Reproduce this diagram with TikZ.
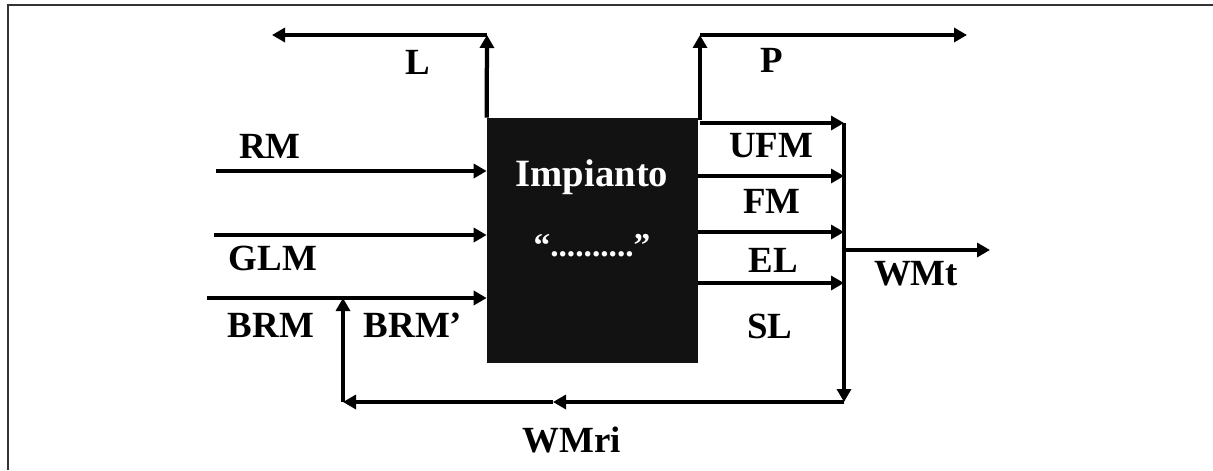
\documentclass[tikz,border=0pt]{standalone}
\usepackage{fontspec}
\setmainfont{Liberation Serif}
\usetikzlibrary{positioning, arrows.meta}

\begin{document}
\begin{tikzpicture}[
        x=0.02cm, y=-0.02cm,
        flow/.style={-{Triangle[length=0.26cm, width=0.28cm]}, line width=0.085cm},
        wire/.style={line width=0.085cm},
        lbl/.style={font=\fontsize{21}{24}\selectfont\bfseries, inner sep=0pt}
      ]
        \useasboundingbox (0,0) rectangle (1213,470);
        \draw[line width=0.03cm, black!80] (8,470) -- (8,5) -- (1213,5);
        % plant block
        \node[fill=black!93, minimum width=4.22cm, minimum height=4.9cm, inner sep=0pt] (plant) at (592.5,240.5) {};
        \node[lbl, text=white, font=\fontsize{22}{24}\selectfont\bfseries] (name) at (592,177) {Impianto};
        \node[lbl, text=white, font=\fontsize{19}{22}\selectfont\bfseries] (dots) at (592,246) {“..........”};
        % free ends
        \coordinate (rmin)  at (216,171);
        \coordinate (glmin) at (214,235);
        \coordinate (brmin) at (207,298);
        \coordinate (ltop)  at (487,35);
        \coordinate (lend)  at (272,35);
        \coordinate (pbase) at (700,120);
        \coordinate (ptop)  at (700,35);
        \coordinate (pend)  at (967,35);
        \coordinate (ufm)   at (700,123);
        \coordinate (fm)    at (plant.east |- 0,176);
        \coordinate (el)    at (plant.east |- 0,232);
        \coordinate (sl)    at (plant.east |- 0,283);
        \coordinate (coltop) at (844,123);
        \coordinate (colbot) at (844,402);
        \coordinate (wmt)   at (844,250);
        \coordinate (wmtend) at (990,250);
        \coordinate (wmrimid) at (553,402);
        \coordinate (wmriend) at (343,402);
        \coordinate (brmtip) at (343,298);
        % inputs
        \draw[flow] (rmin) -- (rmin -| plant.west);
        \draw[flow] (glmin) -- (glmin -| plant.west);
        \draw[flow] (brmin) -- (brmin -| plant.west);
        % losses and products
        \draw[flow] (plant.north west) -- (ltop);
        \draw[flow] (ltop) -- (lend);
        \draw[flow] (pbase) -- (ptop);
        \draw[flow] (ptop) -- (pend);
        % outputs to collector
        \draw[flow] (ufm) -- (coltop);
        \draw[flow] (fm) -- (fm -| coltop);
        \draw[flow] (el) -- (el -| coltop);
        \draw[flow] (sl) -- (sl -| coltop);
        \draw[flow] (coltop) -- (colbot);
        \draw[flow] (wmt) -- (wmtend);
        % recycle loop
        \draw[flow] (colbot) -- (wmrimid);
        \draw[flow] (wmrimid) -- (wmriend);
        \draw[flow] (wmriend) -- (brmtip);
        % labels
        \node[lbl] (llbl)   at (418,62)  {L};
        \node[lbl] (plbl)   at (772,60)  {P};
        \node[lbl] (rmlbl)  at (270,146) {RM};
        \node[lbl] (glmlbl) at (273,258) {GLM};
        \node[lbl] (brmlbl) at (271,325) {BRM};
        \node[lbl] (brmplbl) at (413,325) {BRM’};
        \node[lbl] (ufmlbl) at (771,146) {UFM};
        \node[lbl] (fmlbl)  at (772,201) {FM};
        \node[lbl] (ellbl)  at (773,260) {EL};
        \node[lbl] (sllbl)  at (770,326) {SL};
        \node[lbl] (wmtlbl) at (916,274) {WMt};
        \node[lbl] (wmrilbl) at (572,440) {WMri};
      \end{tikzpicture}
\end{document}
